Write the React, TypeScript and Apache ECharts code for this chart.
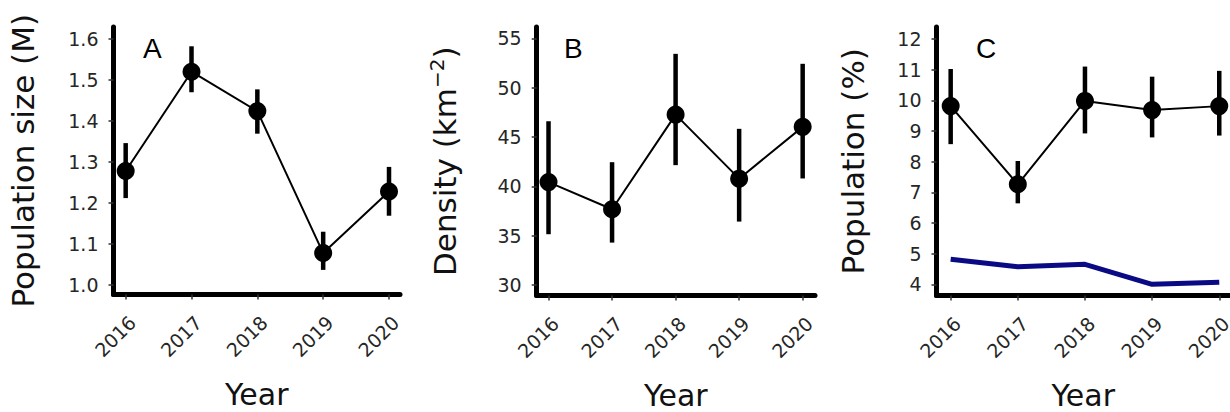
import React, { useEffect, useRef } from "react";
import * as echarts from "echarts";

const years = [2016, 2017, 2018, 2019, 2020];

// Panel A: population size (M)
const popSize = [1.278, 1.52, 1.424, 1.078, 1.228];
const popSizeLow = [1.212, 1.47, 1.369, 1.037, 1.169];
const popSizeHigh = [1.346, 1.582, 1.477, 1.13, 1.288];
const popSizeTicks = [1.0, 1.1, 1.2, 1.3, 1.4, 1.5, 1.6];

// Panel B: density (km^-2)
const density = [40.43, 37.68, 47.27, 40.78, 46.03];
const densityLow = [35.15, 34.3, 42.15, 36.43, 40.8];
const densityHigh = [46.6, 42.45, 53.43, 45.83, 52.42];
const densityTicks = [30, 35, 40, 45, 50, 55];

// Panel C: population (%)
const popPct = [9.81, 7.26, 9.98, 9.68, 9.81];
const popPctLow = [8.57, 6.64, 8.92, 8.79, 8.85];
const popPctHigh = [11.02, 8.02, 11.1, 10.77, 10.96];
const popPctBlue = [4.82, 4.57, 4.65, 4.0, 4.07];
const popPctTicks = [4, 5, 6, 7, 8, 9, 10, 11, 12];

const panelLetters = ["A", "B", "C"];

const FONT = "DejaVu Sans";
const TICK_COLOR = "#262626";

function errRender(params: any, api: any) {
  const x = api.value(0);
  const p1 = api.coord([x, api.value(1)]);
  const p2 = api.coord([x, api.value(2)]);
  return {
    type: "line",
    shape: { x1: p1[0], y1: p1[1], x2: p2[0], y2: p2[1] },
    style: { stroke: "#000", lineWidth: 4.5 },
  };
}

export default function App() {
  const ref = useRef<HTMLDivElement>(null);
  useEffect(() => {
    document.body.style.margin = "0";
    const chart = echarts.init(ref.current!, null, { renderer: "svg" });

    const grids = [
      { left: 113.5, top: 27, width: 286.5, height: 267.5 },
      { left: 536.7, top: 27, width: 278.3, height: 268.5 },
      { left: 936.5, top: 27, width: 293.5, height: 268.5 },
    ];
    const xRanges = [
      [2015.815, 2020.167],
      [2015.814, 2020.194],
      [2015.789, 2020.16],
    ];
    const yRanges = [
      [0.977, 1.629],
      [28.94, 56.15],
      [3.635, 12.39],
    ];
    const yTicks = [popSizeTicks, densityTicks, popPctTicks];
    const yNames = ["Population size (M)", "Density (km{sup|\u22122})", "Population (%)"];
    const yGaps = [75, 73.5, 68.5];

    const axisCommon = {
      axisLine: { show: true, lineStyle: { color: "#000", width: 5 } },
      axisTick: { show: true, length: 5, lineStyle: { color: "#333", width: 1.5 } },
      splitLine: { show: false },
    };

    const xAxis = grids.map((g, i) => ({
      type: "value",
      gridIndex: i,
      min: xRanges[i][0],
      max: xRanges[i][1],
      ...axisCommon,
      axisTick: { ...axisCommon.axisTick, customValues: years },
      axisLabel: {
        customValues: years,
        rotate: 45,
        fontFamily: FONT,
        fontSize: 19,
        color: TICK_COLOR,
        margin: 18,
        align: "right",
        verticalAlign: "top",
        formatter: (v: number) => String(Math.round(v)),
      },
      name: "Year",
      nameLocation: "middle",
      nameGap: 85,
      nameMoveOverlap: false,
      nameTextStyle: { fontFamily: FONT, fontSize: 30, color: "#111" },
    }));

    const yAxis = grids.map((g, i) => ({
      type: "value",
      gridIndex: i,
      min: yRanges[i][0],
      max: yRanges[i][1],
      ...axisCommon,
      axisTick: { ...axisCommon.axisTick, customValues: yTicks[i] },
      axisLabel: {
        customValues: yTicks[i],
        fontFamily: FONT,
        fontSize: 19,
        color: TICK_COLOR,
        margin: 15,
        formatter: (v: number) => (i === 0 ? v.toFixed(1) : String(Math.round(v))),
      },
      name: yNames[i],
      nameLocation: "middle",
      nameGap: yGaps[i],
      nameMoveOverlap: false,
      nameTextStyle: {
        fontFamily: FONT,
        fontSize: 31,
        color: "#111",
        rich: {
          sup: { fontFamily: FONT, fontSize: 20, color: "#111", verticalAlign: "top", padding: [0, 0, 16, 0] },
        },
      },
    }));

    const mainSets = [
      [popSize, popSizeLow, popSizeHigh],
      [density, densityLow, densityHigh],
      [popPct, popPctLow, popPctHigh],
    ];

    const series: any[] = [];
    mainSets.forEach((set, i) => {
      const [mid, lo, hi] = set;
      series.push({
        type: "custom",
        xAxisIndex: i,
        yAxisIndex: i,
        renderItem: errRender,
        encode: { x: 0, y: [1, 2] },
        data: years.map((y, k) => [y, lo[k], hi[k]]),
        z: 2,
      });
      series.push({
        type: "line",
        xAxisIndex: i,
        yAxisIndex: i,
        data: years.map((y, k) => [y, mid[k]]),
        symbol: "circle",
        symbolSize: 18,
        itemStyle: { color: "#000" },
        lineStyle: { color: "#000", width: 2 },
        z: 3,
      });
    });
    series.push({
      type: "line",
      xAxisIndex: 2,
      yAxisIndex: 2,
      data: years.map((y, k) => [y, popPctBlue[k]]),
      symbol: "none",
      lineStyle: { color: "#0a0a85", width: 5 },
      z: 2,
    });

    const letterPos = [
      [143, 34],
      [564, 34],
      [976, 34],
    ];

    chart.setOption({
      animation: false,
      grid: grids.map((g) => ({ ...g, containLabel: false, outerBoundsMode: "none" })),
      xAxis,
      yAxis,
      series,
      graphic: panelLetters.map((t, i) => ({
        type: "text",
        left: letterPos[i][0],
        top: letterPos[i][1],
        style: { text: t, font: '28px "Liberation Sans"', fill: "#000" },
      })),
    });
    return () => chart.dispose();
  }, []);
  return <div ref={ref} style={{ width: 1230, height: 412 }} />;
}
